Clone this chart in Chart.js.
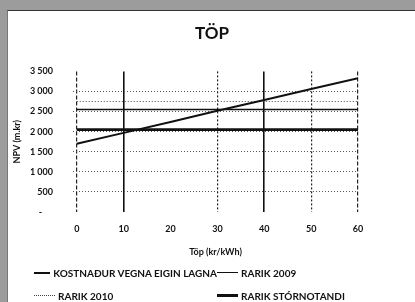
<!DOCTYPE html>
<html>
<head>
<meta charset="utf-8">
<script src="https://cdn.jsdelivr.net/npm/chart.js@4"></script>
<style>
    body { margin: 0; width: 415px; height: 302px; background: #9c9c9c; overflow: hidden; font-family: Lato, "Liberation Sans", sans-serif; }
    .blad { position: absolute; left: 7px; top: 10px; width: 408px; height: 292px; background: #fff; border-top: 1px solid #333; border-left: 1px solid #777; box-sizing: border-box; }
    #grafTop { position: absolute; left: 0; top: 0; }
    .skyring { position: absolute; left: 26px; top: 250px; display: grid; grid-template-columns: 183px 1fr; grid-auto-rows: 23px; font-size: 10px; font-weight: bold; color: #111; }
    .skyring div { display: flex; align-items: center; white-space: nowrap; }
    .skyring span.lina { display: inline-block; width: 21px; margin-right: 3px; }
</style>
</head>
<body>
<div class="blad">
    <canvas id="grafTop" width="408" height="292"></canvas>
    <div class="skyring" id="skyring"></div>
</div>
<script>
// Töp (kr/kWh)
const topLabels = [0, 10, 20, 30, 40, 50, 60];
// NPV (m.kr)
const kostnadur = [1700, 1970, 2240, 2520, 2790, 3060, 3330];
const rarik2009 = [2550, 2550, 2550, 2550, 2550, 2550, 2550];
const rarik2010 = [2750, 2750, 2750, 2750, 2750, 2750, 2750];
const rarikStor = [2050, 2050, 2050, 2050, 2050, 2050, 2050];
const yTicks = [0, 500, 1000, 1500, 2000, 2500, 3000, 3500];

function punktar(gildi) {
    return topLabels.map((x, i) => ({ x: x, y: gildi[i] }));
}

function thusund(v) {
    if (v === 0) return '-     ';
    return String(v).replace(/\B(?=(\d{3})+(?!\d))/g, ' ');
}

const letur = { family: 'Lato, "Liberation Sans", sans-serif', size: 9, weight: 'bold' };

const ctx = document.getElementById('grafTop').getContext('2d');
const graf = new Chart(ctx, {
    type: 'line',
    data: {
        datasets: [
            { label: 'KOSTNAÐUR VEGNA EIGIN LAGNA', data: punktar(kostnadur), borderColor: '#111', borderWidth: 2, pointRadius: 0, legendWidth: 2 },
            { label: 'RARIK 2009', data: punktar(rarik2009), borderColor: '#111', borderWidth: 1.6, pointRadius: 0, legendWidth: 1 },
            { label: 'RARIK 2010', data: punktar(rarik2010), borderColor: '#444', borderWidth: 1, borderDash: [1, 2], pointRadius: 0, legendWidth: 1, legendDash: true },
            { label: 'RARIK STÓRNOTANDI', data: punktar(rarikStor), borderColor: '#111', borderWidth: 2.6, pointRadius: 0, legendWidth: 3 }
        ]
    },
    options: {
        responsive: false,
        animation: false,
        layout: { padding: { top: 0, left: 0, right: 0, bottom: 41 } },
        plugins: {
            legend: { display: false },
            tooltip: { enabled: false },
            title: {
                display: true,
                text: 'TÖP',
                color: '#111',
                font: { family: letur.family, size: 17, weight: 'bold' },
                padding: { top: 12, bottom: 28 }
            }
        },
        scales: {
            x: {
                type: 'linear',
                min: -0.8,
                max: 60,
                afterFit: s => { s.height = 50; },
                afterBuildTicks: s => { s.ticks = topLabels.map(v => ({ value: v })); },
                ticks: { color: '#111', font: letur, padding: 12, maxRotation: 0 },
                grid: {
                    drawTicks: false,
                    color: c => {
                        const v = c.tick && c.tick.value;
                        if (v === 20) return 'rgba(0,0,0,0)';
                        return (v === 10 || v === 40) ? '#111' : '#222';
                    },
                    lineWidth: c => {
                        const v = c.tick && c.tick.value;
                        return (v === 10 || v === 40) ? 1.6 : 1.2;
                    }
                },
                border: {
                    display: false,
                    dash: c => {
                        const v = c.tick && c.tick.value;
                        if (v === 10 || v === 40) return [];
                        if (v === 0 || v === 60) return [4, 2];
                        return [2, 2];
                    }
                },
                title: { display: true, text: 'Töp (kr/kWh)', color: '#111', font: letur, padding: { top: 0, bottom: 5 } }
            },
            y: {
                min: 0,
                max: 3500,
                afterFit: s => { s.width = 65; },
                afterBuildTicks: s => { s.ticks = yTicks.map(v => ({ value: v })); },
                ticks: { color: '#111', font: letur, padding: 20, callback: v => thusund(v) },
                grid: {
                    drawTicks: false,
                    color: c => {
                        const v = c.tick && c.tick.value;
                        return (v === 0 || v === 3500) ? 'rgba(0,0,0,0)' : '#555';
                    },
                    lineWidth: 1
                },
                border: { display: false, dash: [1, 2] },
                title: { display: true, text: 'NPV (m.kr)', color: '#111', font: letur, padding: { top: 4, bottom: 0 } }
            },
            // tómur ás hægra megin, heldur bili svo titillinn sé fyrir miðju
            hægri: {
                position: 'right',
                afterFit: s => { s.width = 58; },
                ticks: { display: false },
                grid: { display: false },
                border: { display: false }
            }
        }
    }
});

// skýringar smíðaðar úr gagnaröðunum
const skyring = document.getElementById('skyring');
graf.data.datasets.forEach(ds => {
    const d = document.createElement('div');
    const lina = document.createElement('span');
    lina.className = 'lina';
    lina.style.borderTop = ds.legendWidth + 'px ' + (ds.legendDash ? 'dotted ' : 'solid ') + ds.borderColor;
    d.appendChild(lina);
    d.appendChild(document.createTextNode(ds.label));
    skyring.appendChild(d);
});
</script>
</body>
</html>
